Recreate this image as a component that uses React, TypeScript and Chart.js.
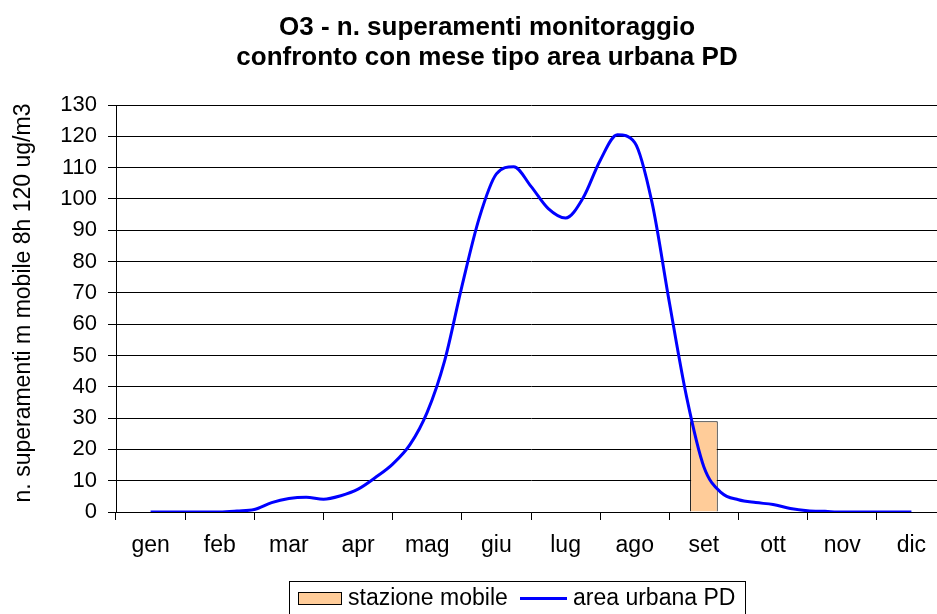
import React, { useEffect, useRef } from "react";
import { Chart, registerables } from "chart.js";

Chart.register(...registerables);

const months = ["gen", "feb", "mar", "apr", "mag", "giu", "lug", "ago", "set", "ott", "nov", "dic"];
const stazioneMobile: (number | null)[] = [null, null, null, null, null, null, null, null, 29, null, null, null];
// area urbana PD: values every quarter of a month, starting at "gen"
const lineStep = 0.25;
const areaUrbanaPD = [
  0, 0, 0, 0, 0, 0.3, 0.8, 3.0, 4.3, 4.7, 4.1, 5.2, 7.3, 11, 15.3, 21.5, 31.9, 48.2, 72, 93.8,
  108, 110.3, 104, 96.9, 93.9, 100.2, 112.3, 120.5, 118, 98.8, 67, 36.7, 14.4, 6.2, 3.9, 3.0, 2.4, 1.1, 0.4, 0.2,
  0, 0, 0, 0, 0,
];
const yTicks = { min: 0, max: 130, step: 10 };
const titleLines = ["O3 - n. superamenti monitoraggio", "confronto con mese tipo area urbana PD"];
const yTitle = "n. superamenti m mobile 8h 120 ug/m3";
const seriesNames = ["stazione mobile", "area urbana PD"];

const FONT = "'Liberation Sans', Arial, sans-serif";
const BAR_COLOR = "#FFCC99";
const LINE_COLOR = "#0000FF";

const decorPlugin = {
  id: "decor",
  afterDraw(chart: any) {
    const ctx = chart.ctx as CanvasRenderingContext2D;
    ctx.save();
    // title
    ctx.fillStyle = "#000";
    ctx.font = `bold 26px ${FONT}`;
    ctx.textAlign = "center";
    ctx.textBaseline = "middle";
    ctx.fillText(titleLines[0], 487, 28);
    ctx.fillText(titleLines[1], 487, 58);
    // y axis title
    ctx.save();
    ctx.translate(24, 303);
    ctx.rotate(-Math.PI / 2);
    ctx.font = `23px ${FONT}`;
    ctx.fillText(yTitle, 0, 0);
    ctx.restore();
    // legend box
    ctx.strokeStyle = "#000";
    ctx.lineWidth = 1;
    ctx.strokeRect(289.5, 581.5, 456, 40);
    // bar swatch
    ctx.fillStyle = BAR_COLOR;
    ctx.fillRect(298, 592, 44, 13);
    ctx.strokeRect(298.5, 592.5, 43, 12);
    ctx.fillStyle = "#000";
    ctx.font = `23px ${FONT}`;
    ctx.textAlign = "left";
    ctx.fillText(seriesNames[0], 348, 599);
    // line swatch
    ctx.strokeStyle = LINE_COLOR;
    ctx.lineWidth = 3;
    ctx.beginPath();
    ctx.moveTo(520, 598.5);
    ctx.lineTo(567, 598.5);
    ctx.stroke();
    ctx.fillText(seriesNames[1], 573, 599);
    ctx.restore();
  },
};

export default function App() {
  const canvasRef = useRef<HTMLCanvasElement | null>(null);

  useEffect(() => {
    const canvas = canvasRef.current;
    if (!canvas) return;
    const lineData = areaUrbanaPD.map((v, i) => ({ x: i * lineStep, y: v }));
    const chart = new Chart(canvas, {
      type: "bar",
      data: {
        labels: months,
        datasets: [
          {
            type: "line",
            label: seriesNames[1],
            data: lineData as any,
            xAxisID: "x2",
            yAxisID: "y",
            borderColor: LINE_COLOR,
            borderWidth: 3,
            pointRadius: 0,
            fill: false,
            cubicInterpolationMode: "monotone",
            order: 0,
          } as any,
          {
            type: "bar",
            label: seriesNames[0],
            data: stazioneMobile,
            xAxisID: "x",
            yAxisID: "y",
            backgroundColor: BAR_COLOR,
            borderColor: "#000",
            borderWidth: 1,
            barPercentage: 0.4,
            categoryPercentage: 1,
            grouped: false,
            order: 1,
          } as any,
        ],
      },
      options: {
        responsive: false,
        animation: false,
        layout: { padding: { left: 9, top: 105, right: 14, bottom: 2 } },
        plugins: {
          legend: { display: false },
          title: { display: false },
          tooltip: { enabled: false },
        },
        scales: {
          x: {
            type: "category",
            offset: true,
            grid: { drawOnChartArea: false, offset: true, tickLength: 8, color: "#000" },
            border: { color: "#000" },
            ticks: { color: "#000", font: { family: FONT, size: 23 }, padding: 12, maxRotation: 0, autoSkip: false },
            afterFit: (s: any) => {
              s.height = 100;
            },
          },
          x2: {
            type: "linear",
            display: false,
            offset: false,
            grace: 0,
            min: -0.5,
            max: 11.5,
          },
          y: {
            min: yTicks.min,
            max: yTicks.max,
            ticks: { stepSize: yTicks.step, color: "#000", font: { family: FONT, size: 22 }, padding: 11 },
            grid: { color: "#000", tickLength: 8 },
            border: { color: "#000" },
            title: { display: false },
            afterFit: (s: any) => {
              s.width = 107;
            },
          },
        },
      },
      plugins: [decorPlugin],
    });
    return () => chart.destroy();
  }, []);

  return (
    <div
      style={{
        position: "fixed",
        left: 0,
        top: 0,
        width: 937,
        height: 614,
        overflow: "hidden",
        background: "#fff",
      }}
    >
      <canvas ref={canvasRef} width={960} height={614} style={{ width: 960, height: 614, display: "block" }} />
    </div>
  );
}
